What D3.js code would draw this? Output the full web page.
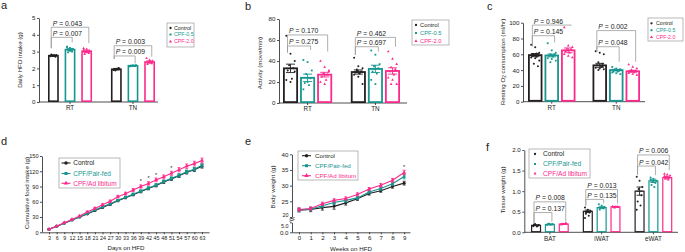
<!doctype html>
<html lang="en">
<head>
<meta charset="utf-8">
<title>CPF figure - D3</title>
<style>
  body { margin: 0; background: #fff; }
  svg { display: block; font-family: "Liberation Sans", Arial, sans-serif; }
</style>
</head>
<body>
<svg width="685" height="252"></svg>
<script src="https://cdn.jsdelivr.net/npm/d3@7/dist/d3.min.js"></script>
<script>
  // series + colours
  var seriesABC = ['Control', 'CPF-0.5', 'CPF-2.0'];
  var seriesDEF = ['Control', 'CPF/Pair-fed', 'CPF/Ad libitum'];
  var colors = ['#231f20', '#16968f', '#fc2a8c'];
  var groupsTemp = ['RT', 'TN'];
  var groupsFat = ['BAT', 'iWAT', 'eWAT'];

  // a: daily HFD intake (g), [RT, TN] for each series
  var aMean = [[2.76, 1.95], [3.12, 2.16], [3.02, 2.38]];
  var aSem = [[0.04, 0.05], [0.07, 0.03], [0.07, 0.07]];
  var aDots = [
    [[2.72, 2.78, 2.8, 2.75, 2.7, 2.82, 2.76], [1.9, 1.96, 2.0, 1.88, 2.02, 1.94]],
    [[3.3, 3.22, 3.15, 3.08, 3.0, 2.95, 3.12, 3.25, 3.05], [2.12, 2.18, 2.2, 2.15, 2.14]],
    [[3.2, 3.15, 3.05, 2.95, 2.9, 2.85, 3.0, 3.1], [2.6, 2.5, 2.45, 2.35, 2.3, 2.25, 2.4]]
  ];
  // [group, from, to, bracket y, left leg end, right leg end, P]
  var aBrackets = [
    [0, 0, 2, 4.45, 3.2, 3.5, '0.043'],
    [0, 0, 1, 3.85, 3.2, 3.55, '0.007'],
    [1, 0, 2, 3.35, 2.56, 2.7, '0.003'],
    [1, 0, 1, 2.74, 2.56, 2.3, '0.009']
  ];

  // b: activity (move/min)
  var bMean = [[33, 29.5], [24, 32.5], [27, 30.5]];
  var bSem = [[4, 2], [3.5, 3.5], [2.2, 3]];
  var bDots = [
    [[64, 47, 40, 36, 33, 31, 23, 22, 20, 30], [43, 35, 33, 32, 30, 29, 28, 27, 25, 18, 31]],
    [[41, 39, 31, 27.6, 23.5, 19, 17, 13, 20], [50, 46, 37, 35, 33, 30, 28, 22, 18]],
    [[40, 34, 30, 28, 27, 25, 22, 20, 18, 31], [49, 42, 37, 34, 32, 30, 27, 24, 22, 18, 18]]
  ];
  var bBrackets = [
    [0, 0, 2, 64.8, 48, 49, '0.170'],
    [0, 0, 1, 54.3, 48, 50.5, '0.275'],
    [1, 0, 2, 62.5, 45.7, 53.6, '0.462'],
    [1, 0, 1, 53.6, 45.7, 49, '0.697']
  ];

  // c: resting O2 consumption (ml/hr)
  var cMean = [[59, 46], [58.5, 40], [65, 38.5]];
  var cSem = [[2, 2.5], [1.8, 1], [3, 1.2]];
  var cDots = [
    [[72, 69, 62, 60, 59, 58, 57, 56, 55, 52, 48, 45, 60, 61], [64, 62, 60, 50, 48, 46, 44, 43, 42, 41, 40, 45]],
    [[74, 65, 62, 60, 59, 58, 57, 55, 54, 52, 50, 60], [44, 42, 41, 40, 39, 38, 38, 37, 36, 35, 41]],
    [[94, 71, 69, 67, 66, 64, 62, 60, 58, 56], [47, 44, 42, 40, 39, 38, 37, 36, 35, 34, 40]]
  ];
  var cBrackets = [
    [0, 0, 2, 97, 70, 96, '0.946'],
    [0, 0, 1, 83.5, 70, 75, '0.145'],
    [1, 0, 2, 90, 63, 50.6, '0.002'],
    [1, 0, 1, 69.6, 63, 50.6, '0.048']
  ];

  // d: cumulative food intake (g)
  var days = [3, 6, 9, 12, 15, 18, 21, 24, 27, 30, 33, 36, 39, 42, 45, 48, 51, 54, 57, 60, 63];
  var dControl = [6, 12, 18, 24, 30, 36, 43, 49, 55, 62, 68, 74, 80, 86, 92, 99, 105, 111, 118, 123, 130];
  var dPairFed = [6, 12, 18, 24, 30, 37, 44, 50, 56, 63, 69, 75, 81, 87, 93, 100, 106, 112, 119, 124, 132];
  var dAdLib = [6, 12, 19, 25, 32, 40, 47, 54, 61, 70, 76, 83, 90, 96, 103, 109, 116, 123, 130, 135, 141];
  var dControlSem = [0.4, 0.5, 0.6, 0.8, 1, 1.1, 1.3, 1.5, 1.7, 1.8, 2, 2.2, 2.4, 2.5, 2.7, 2.9, 3, 3.2, 3.4, 3.6, 3.8];
  var dPairFedSem = [0.4, 0.5, 0.6, 0.8, 1, 1.1, 1.3, 1.5, 1.7, 1.8, 2, 2.2, 2.4, 2.5, 2.7, 2.9, 3, 3.2, 3.4, 3.6, 3.8];
  var dAdLibSem = [0.5, 0.6, 0.8, 1, 1.2, 1.5, 1.8, 2, 2.2, 2.5, 2.7, 3, 3.2, 3.4, 3.6, 3.8, 4, 4.2, 4.4, 4.6, 4.8];
  var dStars = [39, 42, 45, 51];

  // e: body weight (g)
  var weeks = [0, 1, 2, 3, 4, 5, 6, 7, 8, 9];
  var eControl = [22.2, 22.4, 23.0, 23.4, 24.5, 25.8, 27.5, 28.4, 29.7, 30.8];
  var ePairFed = [22.3, 22.5, 23.6, 24.6, 25.3, 26.1, 28.0, 29.1, 30.6, 32.9];
  var eAdLib = [22.4, 22.7, 24.2, 25.3, 25.9, 27.2, 28.9, 30.1, 31.7, 34.2];
  var eControlSem = [0.6, 0.7, 0.8, 0.9, 0.7, 0.5, 0.5, 0.5, 0.5, 0.6];
  var ePairFedSem = [0.5, 0.5, 0.5, 0.6, 0.6, 0.5, 0.5, 0.6, 0.6, 0.7];
  var eAdLibSem = [0.5, 0.5, 0.5, 0.5, 0.5, 0.5, 0.5, 0.6, 0.6, 0.7];
  var eStars = [9];

  // f: tissue weight (g), [BAT, iWAT, eWAT]
  var fMean = [[0.17, 0.51, 1.0], [0.19, 0.6, 1.25], [0.2, 0.62, 1.33]];
  var fSem = [[0.01, 0.03, 0.1], [0.01, 0.02, 0.04], [0.01, 0.01, 0.03]];
  var fDots = [
    [[0.15, 0.17, 0.18, 0.2, 0.16, 0.19, 0.14], [0.6, 0.55, 0.52, 0.5, 0.48, 0.45, 0.4, 0.35], [1.35, 1.25, 1.1, 1.05, 0.9, 0.75, 0.65, 0.55]],
    [[0.18, 0.19, 0.2, 0.21, 0.19, 0.2], [0.68, 0.65, 0.62, 0.6, 0.58, 0.55, 0.6], [1.33, 1.3, 1.25, 1.22, 1.2, 1.15, 1.1, 1.28]],
    [[0.19, 0.2, 0.21, 0.2, 0.22, 0.19], [0.63, 0.62, 0.61, 0.6, 0.62, 0.61], [1.42, 1.4, 1.38, 1.35, 1.33, 1.3, 1.28, 1.36]]
  ];
  var fBrackets = [
    [0, 0, 2, 0.74, 0.22, 0.26, '0.008'],
    [0, 0, 1, 0.48, 0.22, 0.26, '0.137'],
    [1, 0, 2, 1.04, 0.65, 0.7, '0.013'],
    [1, 0, 1, 0.8, 0.65, 0.7, '0.135'],
    [2, 0, 2, 1.88, 1.4, 1.51, '0.006'],
    [2, 0, 1, 1.61, 1.4, 1.39, '0.042']
  ];

  var svg = d3.select('svg');
  var shapes = [d3.symbolCircle, d3.symbolSquare, d3.symbolTriangle];
  var ink = '#222';

  function styleAxis(sel, fs) {
    sel.attr('font-family', null).attr('font-size', null);
    sel.selectAll('path, line').attr('stroke', ink).attr('stroke-width', 0.8);
    sel.selectAll('text').attr('font-size', fs).attr('fill', ink);
  }

  function panelLetter(txt, x, y) {
    svg.append('text').attr('x', x).attr('y', y).attr('font-size', 11).attr('fill', ink).text(txt);
  }

  function yTitle(txt, x, y, sub) {
    var t = svg.append('text').attr('transform', 'translate(' + x + ',' + y + ') rotate(-90)')
      .attr('text-anchor', 'middle').attr('font-size', 6.2).attr('fill', ink);
    if (sub) {
      t.append('tspan').text(txt[0]);
      t.append('tspan').attr('font-size', 4.5).attr('dy', 1.5).text(sub);
      t.append('tspan').attr('dy', -1.5).text(txt[1]);
    } else {
      t.text(txt);
    }
  }

  // lg: {x, y, w, h, rows, fs, mx, tx}
  function barLegend(lg, names) {
    var g = svg.append('g');
    g.append('rect').attr('x', lg.x).attr('y', lg.y).attr('width', lg.w).attr('height', lg.h)
      .attr('fill', 'white').attr('stroke', '#9a9a9a').attr('stroke-width', 0.7);
    names.forEach(function (n, i) {
      g.append('path').attr('transform', 'translate(' + (lg.x + lg.mx) + ',' + lg.rows[i] + ')')
        .attr('d', d3.symbol().type(shapes[i]).size(4)()).attr('fill', colors[i]);
      g.append('text').attr('x', lg.x + lg.tx).attr('y', lg.rows[i] + lg.fs * 0.36).attr('font-size', lg.fs)
        .attr('fill', colors[i]).text(n);
    });
  }

  function lineLegend(lg, names) {
    var g = svg.append('g');
    g.append('rect').attr('x', lg.x).attr('y', lg.y).attr('width', lg.w).attr('height', lg.h)
      .attr('fill', 'white').attr('stroke', '#9a9a9a').attr('stroke-width', 0.7);
    names.forEach(function (n, i) {
      g.append('line').attr('x1', lg.x + lg.mx - 4.5).attr('x2', lg.x + lg.mx + 4.5)
        .attr('y1', lg.rows[i]).attr('y2', lg.rows[i])
        .attr('stroke', colors[i]).attr('stroke-width', 1.1);
      g.append('path').attr('transform', 'translate(' + (lg.x + lg.mx) + ',' + lg.rows[i] + ')')
        .attr('d', d3.symbol().type(shapes[i]).size(9)()).attr('fill', colors[i]);
      g.append('text').attr('x', lg.x + lg.tx).attr('y', lg.rows[i] + lg.fs * 0.36).attr('font-size', lg.fs)
        .attr('fill', colors[i]).text(n);
    });
  }

  function barPanel(o) {
    var y = d3.scaleLinear().domain(o.yDomain).range([o.y0, o.y1]);
    var x0 = d3.scaleBand().domain(o.groups).range([o.bx0, o.bx1]).paddingInner(o.pIn).paddingOuter(0);
    var x1 = d3.scaleBand().domain([0, 1, 2]).range([0, x0.bandwidth()]).paddingInner(o.pIn2).paddingOuter(0);
    var bw = x1.bandwidth();
    var g = svg.append('g');

    var ya = g.append('g').attr('transform', 'translate(' + o.ax + ',0)')
      .call(d3.axisLeft(y).tickValues(o.yTicks).tickFormat(o.fmt).tickSize(2).tickSizeOuter(0).tickPadding(1.5));
    styleAxis(ya, 6.2);
    var xa = g.append('g').attr('transform', 'translate(0,' + o.y0 + ')')
      .call(d3.axisBottom(x0).tickSize(2).tickSizeOuter(0).tickPadding(2));
    xa.select('.domain').attr('d', 'M' + o.ax + ',0H' + o.axEnd);
    styleAxis(xa, 6.3);

    for (var s = 0; s < 3; s++) {
      o.groups.forEach(function (gn, gi) {
        var bx = x0(gn) + x1(s);
        var m = o.mean[s][gi];
        var cx = bx + bw / 2;
        g.append('rect')
          .attr('x', bx + o.sw / 2).attr('width', bw - o.sw)
          .attr('y', y(m)).attr('height', y(0) - y(m) - o.sw / 2)
          .attr('fill', 'white').attr('stroke', colors[s]).attr('stroke-width', o.sw);
        o.dots[s][gi].forEach(function (v, i) {
          var off = (((i * 3) % 7) - 3) / 3 * bw * 0.28;
          g.append('path').attr('transform', 'translate(' + (cx + off) + ',' + y(v) + ')')
            .attr('d', d3.symbol().type(shapes[s]).size(3.2)()).attr('fill', colors[s]);
        });
        var hi = y(m + o.sem[s][gi]), lo = y(m - o.sem[s][gi]), cw = bw * 0.3;
        g.append('path')
          .attr('d', 'M' + cx + ',' + lo + 'V' + hi + 'M' + (cx - cw) + ',' + hi + 'H' + (cx + cw) +
            'M' + (cx - cw) + ',' + lo + 'H' + (cx + cw) + 'M' + (cx - cw) + ',' + y(m) + 'H' + (cx + cw))
          .attr('stroke', colors[s]).attr('stroke-width', 0.9).attr('fill', 'none');
      });
    }

    o.brackets.forEach(function (b) {
      var gx = x0(o.groups[b[0]]);
      var xl = gx + x1(b[1]) + bw / 2 - bw * 0.2;
      var xr = gx + x1(b[2]) + bw / 2 + bw * 0.2;
      var yl = y(b[3]);
      g.append('path').attr('d', 'M' + xl + ',' + y(b[4]) + 'V' + yl + 'H' + xr + 'V' + y(b[5]))
        .attr('fill', 'none').attr('stroke', '#9a9a9a').attr('stroke-width', 0.8);
      var t = g.append('text').attr('x', xl + 1.5).attr('y', yl - 1.5).attr('font-size', 6.8).attr('fill', ink);
      t.append('tspan').attr('font-style', 'italic').text('P');
      t.append('tspan').text(' = ' + b[6]);
    });
  }

  function drawSeries(g, x, y, xs, vals, sems, s) {
    var line = d3.line().x(function (d, i) { return x(xs[i]); }).y(function (d) { return y(d); });
    g.append('path').attr('d', line(vals)).attr('fill', 'none').attr('stroke', colors[s]).attr('stroke-width', 1.1);
    vals.forEach(function (v, i) {
      var cx = x(xs[i]), hi = y(v + sems[i]), lo = y(v - sems[i]);
      g.append('path').attr('d', 'M' + cx + ',' + lo + 'V' + hi + 'M' + (cx - 1.5) + ',' + hi + 'H' + (cx + 1.5) +
        'M' + (cx - 1.5) + ',' + lo + 'H' + (cx + 1.5))
        .attr('stroke', colors[s]).attr('stroke-width', 0.8).attr('fill', 'none');
      g.append('path').attr('transform', 'translate(' + cx + ',' + y(v) + ')')
        .attr('d', d3.symbol().type(shapes[s]).size(7)()).attr('fill', colors[s]);
    });
  }

  // ---------- panel a ----------
  panelLetter('a', 1, 9);
  yTitle('Daily HFD intake (g)', 22, 60);
  barPanel({
    yDomain: [0, 5], y0: 102, y1: 18, yTicks: [0, 1, 2, 3, 4, 5], fmt: d3.format('d'),
    groups: groupsTemp, bx0: 48, bx1: 155, pIn: 0.3, pIn2: 0.35, ax: 39, axEnd: 158, sw: 1.6,
    mean: aMean, sem: aSem, dots: aDots, brackets: aBrackets
  });
  barLegend({ x: 167, y: 23, w: 27, h: 24, rows: [28, 34.5, 41.5], fs: 5.3, mx: 3.5, tx: 7 }, seriesABC);

  // ---------- panel b ----------
  panelLetter('b', 245, 10);
  yTitle('Activity (move/min)', 262, 63);
  barPanel({
    yDomain: [0, 80], y0: 103, y1: 19, yTicks: [0, 20, 40, 60, 80], fmt: d3.format('d'),
    groups: groupsTemp, bx0: 283, bx1: 400, pIn: 0.275, pIn2: 0.12, ax: 279, axEnd: 407, sw: 1.8,
    mean: bMean, sem: bSem, dots: bDots, brackets: bBrackets
  });
  barLegend({ x: 412, y: 20, w: 37, h: 25, rows: [25, 33, 41], fs: 5.8, mx: 4, tx: 8 }, seriesABC);

  // ---------- panel c ----------
  panelLetter('c', 487, 10);
  yTitle(['Resting O', ' consumption (ml/hr)'], 504.5, 62, '2');
  barPanel({
    yDomain: [0, 100], y0: 101.7, y1: 22.7, yTicks: [0, 20, 40, 60, 80, 100], fmt: d3.format('d'),
    groups: groupsTemp, bx0: 528, bx1: 640, pIn: 0.264, pIn2: 0.125, ax: 523, axEnd: 645, sw: 1.8,
    mean: cMean, sem: cSem, dots: cDots, brackets: cBrackets
  });
  barLegend({ x: 648, y: 18, w: 35, h: 23, rows: [23.3, 30.2, 37.2], fs: 5.2, mx: 3.5, tx: 8 }, seriesABC);

  // ---------- panel d ----------
  panelLetter('d', 1, 145);
  yTitle('Cumulative food intake (g)', 29, 193);
  (function () {
    var x = d3.scaleLinear().domain([0.25, 65.75]).range([42, 209]);
    var y = d3.scaleLinear().domain([0, 150]).range([232.3, 156]);
    var g = svg.append('g');
    var ya = g.append('g').attr('transform', 'translate(42,0)')
      .call(d3.axisLeft(y).tickValues([0, 30, 60, 90, 120, 150]).tickSize(2).tickSizeOuter(0).tickPadding(1.5));
    styleAxis(ya, 5.6);
    var xa = g.append('g').attr('transform', 'translate(0,232.3)')
      .call(d3.axisBottom(x).tickValues(days).tickSize(2).tickSizeOuter(0).tickPadding(1.5));
    styleAxis(xa, 5.4);
    g.append('text').attr('x', 126).attr('y', 250).attr('text-anchor', 'middle').attr('font-size', 6.2).attr('fill', ink).text('Days on HFD');
    drawSeries(g, x, y, days, dControl, dControlSem, 0);
    drawSeries(g, x, y, days, dPairFed, dPairFedSem, 1);
    drawSeries(g, x, y, days, dAdLib, dAdLibSem, 2);
    dStars.forEach(function (d) {
      var i = days.indexOf(d);
      g.append('text').attr('x', x(d)).attr('y', y(dAdLib[i] + dAdLibSem[i]) - 1.5).attr('text-anchor', 'middle')
        .attr('font-size', 5.5).attr('fill', ink).text('*');
    });
  })();
  lineLegend({ x: 59, y: 158, w: 61, h: 30, rows: [163, 173.5, 183.3], fs: 6.5, mx: 7, tx: 14.3 }, seriesDEF);

  // ---------- panel e ----------
  panelLetter('e', 245, 145);
  yTitle('Body weight (g)', 274.5, 187);
  (function () {
    var x = d3.scaleLinear().domain([-0.6, 9.5]).range([292, 410]);
    var yTop = d3.scaleLinear().domain([20, 40]).range([217, 154.3]);
    var yBot = d3.scaleLinear().domain([0, 5]).range([232.3, 222.3]);
    var g = svg.append('g');
    var ya = g.append('g').attr('transform', 'translate(292,0)')
      .call(d3.axisLeft(yTop).tickValues([20, 25, 30, 35, 40]).tickSize(2).tickSizeOuter(0).tickPadding(1.5));
    styleAxis(ya, 6.2);
    var yb = g.append('g').attr('transform', 'translate(292,0)')
      .call(d3.axisLeft(yBot).tickValues([0, 5]).tickSize(2).tickSizeOuter(0).tickPadding(1.5));
    styleAxis(yb, 6.2);
    // squeeze the two labels either side of the break apart
    ya.selectAll('.tick text').filter(function (d) { return d === 20; }).attr('font-size', 5.4).attr('dy', '-0.05em');
    yb.selectAll('.tick text').filter(function (d) { return d === 5; }).attr('font-size', 5.4).attr('dy', '0.9em');
    g.append('path').attr('d', 'M289.5,219.2L294.5,217.6M289.5,221.2L294.5,219.6')
      .attr('stroke', ink).attr('stroke-width', 0.8);
    var xa = g.append('g').attr('transform', 'translate(0,232.3)')
      .call(d3.axisBottom(x).tickValues(weeks).tickSize(2).tickSizeOuter(0).tickPadding(1.5));
    styleAxis(xa, 6.2);
    g.append('text').attr('x', 351).attr('y', 251).attr('text-anchor', 'middle').attr('font-size', 6.2).attr('fill', ink).text('Weeks on HFD');
    drawSeries(g, x, yTop, weeks, eControl, eControlSem, 0);
    drawSeries(g, x, yTop, weeks, ePairFed, ePairFedSem, 1);
    drawSeries(g, x, yTop, weeks, eAdLib, eAdLibSem, 2);
    eStars.forEach(function (w) {
      var i = weeks.indexOf(w);
      g.append('text').attr('x', x(w)).attr('y', yTop(eAdLib[i] + eAdLibSem[i]) - 1.5).attr('text-anchor', 'middle')
        .attr('font-size', 5.5).attr('fill', ink).text('*');
    });
  })();
  lineLegend({ x: 298, y: 151, w: 60, h: 29, rows: [155.7, 165.7, 175.7], fs: 6.2, mx: 8.5, tx: 17 }, seriesDEF);

  // ---------- panel f ----------
  panelLetter('f', 486, 151);
  yTitle('Tissue weight (g)', 504.5, 190);
  barPanel({
    yDomain: [0, 2], y0: 232.3, y1: 150, yTicks: [0, 0.5, 1, 1.5, 2], fmt: d3.format('.1f'),
    groups: groupsFat, bx0: 531, bx1: 672.3, pIn: 0.27, pIn2: 0.27, ax: 524.3, axEnd: 678, sw: 1.2,
    mean: fMean, sem: fSem, dots: fDots, brackets: fBrackets
  });
  barLegend({ x: 529, y: 149, w: 61, h: 29, rows: [154, 164, 173.5], fs: 6.6, mx: 6, tx: 14 }, seriesDEF);
</script>
</body>
</html>
